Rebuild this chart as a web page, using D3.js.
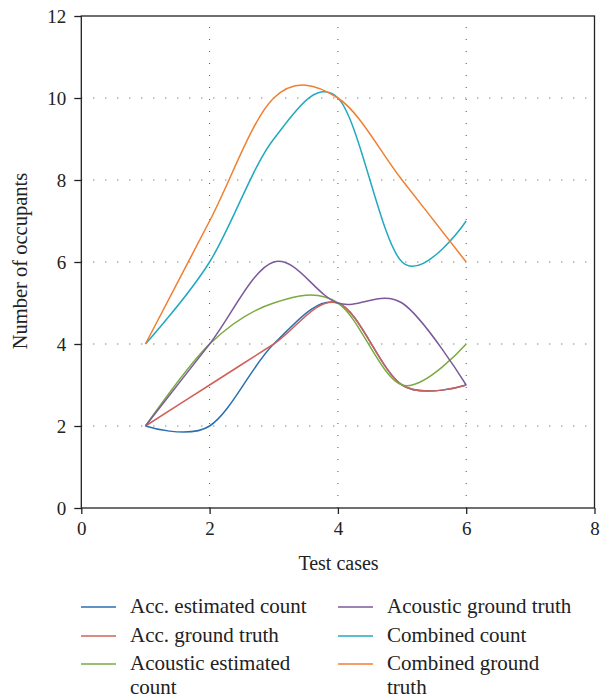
<!DOCTYPE html>
<html><head><meta charset="utf-8">
<script src="https://cdn.jsdelivr.net/npm/d3@7"></script>
<style>body{margin:0;background:#fff}svg{display:block}</style>
</head><body>
<svg id="c" width="607" height="699"></svg>
<script>
const testCases = [1, 2, 3, 4, 5, 6];
const accEstimated = [2, 2, 4, 5, 3, 3];
const accGround = [2, 3, 4, 5, 3, 3];
const acoEstimated = [2, 4, 5, 5, 3, 4];
const acoGround = [2, 4, 6, 5, 5, 3];
const combCount = [4, 6, 9, 10, 6, 7];
const combGround = [4, 7, 10, 10, 8, 6];
const seriesNames = ["Acc. estimated count", "Acc. ground truth", "Acoustic estimated count", "Acoustic ground truth", "Combined count", "Combined ground truth"];
const seriesColors = ["#2a6fb0", "#d0605a", "#7aaa40", "#7b5a9a", "#21a9c0", "#f07f32"];
const xTicks = [0, 2, 4, 6, 8];
const yTicks = [0, 2, 4, 6, 8, 10, 12];

const series = [accEstimated, accGround, acoEstimated, acoGround, combCount, combGround];
const svg = d3.select("#c");
const font = "'Liberation Serif','Times New Roman',serif";
const x = d3.scaleLinear().domain([0, 8]).range([81.3, 594.5]);
const y = d3.scaleLinear().domain([0, 12]).range([508, 16]);

// grid
const g = svg.append("g");
g.selectAll(".gx").data([2, 4, 6]).enter().append("line")
  .attr("x1", d => x(d)).attr("x2", d => x(d)).attr("y1", y(0)).attr("y2", y(12))
  .attr("stroke", "#555").attr("stroke-width", 1).attr("stroke-dasharray", "1,11");
g.selectAll(".gy").data([2, 4, 6, 8, 10]).enter().append("line")
  .attr("x1", x(0)).attr("x2", x(8)).attr("y1", d => y(d)).attr("y2", d => y(d))
  .attr("stroke", "#555").attr("stroke-width", 1).attr("stroke-dasharray", "1,11");

// lines
const line = d3.line().x((d, i) => x(testCases[i])).y(d => y(d)).curve(d3.curveCatmullRom.alpha(0));
series.forEach((s, k) => {
  svg.append("path").attr("d", line(s)).attr("fill", "none")
    .attr("stroke", seriesColors[k]).attr("stroke-width", 1.5);
});

// frame
svg.append("rect").attr("x", x(0)).attr("y", y(12)).attr("width", x(8) - x(0)).attr("height", y(0) - y(12))
  .attr("fill", "none").attr("stroke", "#222").attr("stroke-width", 1.3);

// axes
const xa = svg.append("g").attr("transform", `translate(0,${y(0)})`)
  .call(d3.axisBottom(x).tickValues(xTicks).tickSize(6).tickPadding(8).tickSizeOuter(0));
const ya = svg.append("g").attr("transform", `translate(${x(0)},0)`)
  .call(d3.axisLeft(y).tickValues(yTicks).tickSize(7).tickPadding(8).tickSizeOuter(0));
[xa, ya].forEach(a => {
  a.select(".domain").remove();
  a.selectAll("line").attr("stroke", "#222").attr("stroke-width", 1.3);
  a.selectAll("text").attr("font-family", font).attr("font-size", 19).attr("fill", "#222");
});

svg.append("text").attr("x", 338.5).attr("y", 570).attr("text-anchor", "middle")
  .attr("font-family", font).attr("font-size", 20).attr("fill", "#222").text("Test cases");
svg.append("text").attr("transform", "translate(27,261) rotate(-90)").attr("text-anchor", "middle")
  .attr("font-family", font).attr("font-size", 20.5).attr("fill", "#222").text("Number of occupants");

// legend
const legPos = [[81, 607], [81, 636], [81, 664], [338, 607], [338, 636], [338, 664]];
const legLines = [["Acc. estimated count"], ["Acc. ground truth"], ["Acoustic estimated", "count"], ["Acoustic ground truth"], ["Combined count"], ["Combined ground", "truth"]];
seriesNames.forEach((n, k) => {
  const [lx, ly] = legPos[k];
  svg.append("line").attr("x1", lx).attr("x2", lx + 35).attr("y1", ly).attr("y2", ly)
    .attr("stroke", seriesColors[k]).attr("stroke-width", 1.5);
  const t = svg.append("text").attr("x", lx + 49).attr("y", ly + 6)
    .attr("font-family", font).attr("font-size", 21).attr("fill", "#222");
  legLines[k].forEach((s, j) => t.append("tspan").attr("x", lx + 49).attr("dy", j ? 24 : 0).text(s));
});
</script>
</body></html>
